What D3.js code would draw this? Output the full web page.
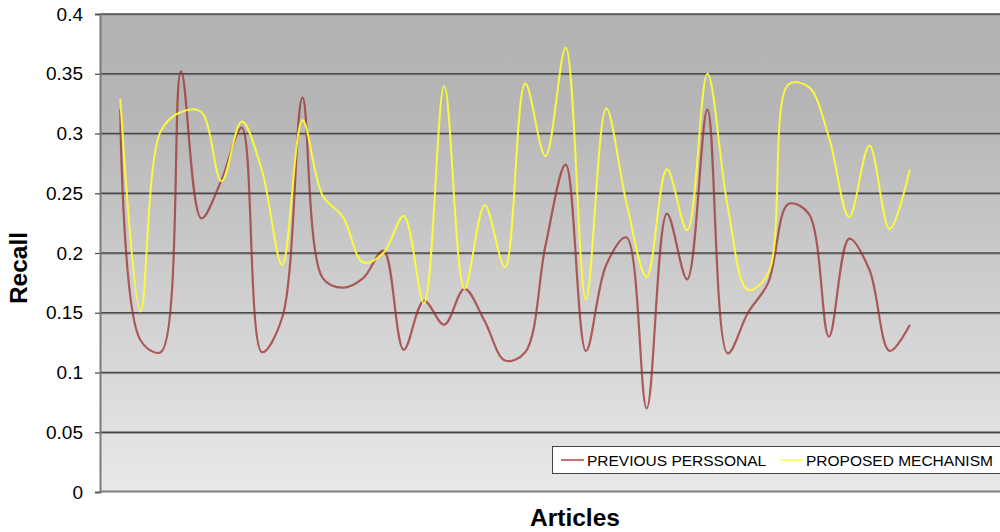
<!DOCTYPE html>
<html><head><meta charset="utf-8">
<script src="https://cdn.jsdelivr.net/npm/d3@7"></script>
<style>body{margin:0;background:#fff;}svg{display:block;}</style>
</head><body>
<svg id="c" width="1000" height="532"></svg>
<script>
const articles = d3.range(1, 41);
const previousPerssonal = [0.32,0.127,0.117,0.352,0.229,0.261,0.305,0.117,0.146,0.33,0.179,0.171,0.179,0.202,0.119,0.16,0.14,0.17,0.143,0.11,0.117,0.206,0.274,0.118,0.19,0.213,0.07,0.233,0.178,0.32,0.116,0.15,0.175,0.241,0.233,0.13,0.212,0.186,0.118,0.14];
const proposedMechanism = [0.329,0.151,0.302,0.318,0.318,0.26,0.31,0.269,0.19,0.311,0.248,0.23,0.192,0.2,0.231,0.158,0.34,0.17,0.24,0.188,0.342,0.281,0.372,0.161,0.321,0.242,0.18,0.27,0.219,0.35,0.239,0.169,0.183,0.341,0.339,0.297,0.23,0.29,0.22,0.27];
const yTicks = [0,0.05,0.1,0.15,0.2,0.25,0.3,0.35,0.4];
const tickLabels = ["0","0.05","0.1","0.15","0.2","0.25","0.3","0.35","0.4"];
const seriesNames = ["PREVIOUS PERSSONAL","PROPOSED MECHANISM"];

(function(){
const svg = d3.select("#c");
const pL = 100, pR = 1000, pT = 14, pB = 492;
const x = d3.scaleLinear().domain([0, 44.45]).range([pL, pR]);
const y = d3.scaleLinear().domain([0, 0.4]).range([pB, pT]);
const font = "'Liberation Sans', Arial, sans-serif";

const defs = svg.append("defs");
const g = defs.append("linearGradient").attr("id","bg").attr("x1",0).attr("y1",0).attr("x2",0).attr("y2",1);
g.append("stop").attr("offset","0%").attr("stop-color","#b3b3b3");
g.append("stop").attr("offset","18%").attr("stop-color","#b5b5b5");
g.append("stop").attr("offset","100%").attr("stop-color","#e9e9e9");
defs.append("clipPath").attr("id","clip").append("rect").attr("x",pL).attr("y",0).attr("width",pR-pL).attr("height",pB+2);

svg.append("rect").attr("x",pL).attr("y",pT).attr("width",pR-pL).attr("height",pB-pT).attr("fill","url(#bg)");

const grid = svg.append("g");
yTicks.forEach(t => {
  if (t === 0) return;
  grid.append("line").attr("x1",pL).attr("x2",pR).attr("y1",y(t)+1.2).attr("y2",y(t)+1.2)
    .attr("stroke","#999").attr("stroke-width",1);
  grid.append("line").attr("x1",pL).attr("x2",pR).attr("y1",y(t)).attr("y2",y(t))
    .attr("stroke","#474747").attr("stroke-width",1.5);
});

svg.append("line").attr("x1",pL).attr("x2",pR).attr("y1",pB-0.5).attr("y2",pB-0.5)
  .attr("stroke","#7a7a7a").attr("stroke-width",2);

const yAxis = d3.axisLeft(y).tickValues(yTicks).tickFormat((d,i)=>tickLabels[i]).tickSize(5).tickPadding(12);
const ya = svg.append("g").attr("transform",`translate(${pL},0)`).call(yAxis);
ya.select(".domain").attr("stroke","#7a7a7a").attr("stroke-width",2);
ya.selectAll(".tick line").attr("stroke","#555").attr("stroke-width",1.3);
ya.selectAll(".tick text").attr("font-family",font).attr("font-size",19).attr("fill","#000");

const line = d3.line().x((d,i)=>x(articles[i])).y(d=>y(d)).curve(d3.curveCatmullRom.alpha(0.5));
const plot = svg.append("g").attr("clip-path","url(#clip)");
plot.append("path").datum(previousPerssonal).attr("d",line).attr("fill","none")
  .attr("stroke","#9c2a2a").attr("stroke-opacity",0.72).attr("stroke-width",2.2);
plot.append("path").datum(proposedMechanism).attr("d",line).attr("fill","none")
  .attr("stroke","#ffff30").attr("stroke-opacity",0.9).attr("stroke-width",2);

svg.append("text").attr("transform","translate(27,268) rotate(-90)").attr("text-anchor","middle")
  .attr("font-family",font).attr("font-weight","bold").attr("font-size",24.5).text("Recall");
svg.append("text").attr("x",575).attr("y",526).attr("text-anchor","middle")
  .attr("font-family",font).attr("font-weight","bold").attr("font-size",24.5).text("Articles");

const lg = svg.append("g");
lg.append("rect").attr("x",552.5).attr("y",446.5).attr("width",460).attr("height",27)
  .attr("fill","#fff").attr("stroke","#444").attr("stroke-width",1);
const legendColors = ["#b84040","#ffff40"];
const legendX = [561, 780];
seriesNames.forEach((n,i)=>{
  lg.append("line").attr("x1",legendX[i]).attr("x2",legendX[i]+23).attr("y1",460).attr("y2",460)
    .attr("stroke",legendColors[i]).attr("stroke-width",1.5);
  lg.append("text").attr("x",legendX[i]+26).attr("y",465.5).attr("font-family",font)
    .attr("font-size",15.5).attr("fill","#000").text(n);
});
})();
</script>
</body></html>
